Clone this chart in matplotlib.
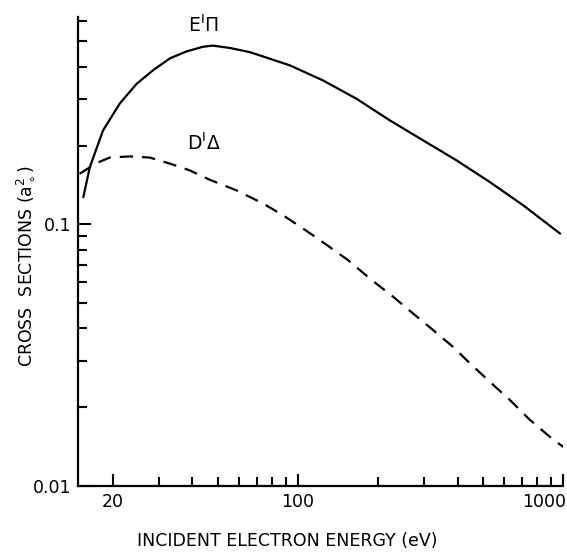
import matplotlib
matplotlib.use("Agg")
import matplotlib.pyplot as plt
from matplotlib.ticker import NullFormatter, LogLocator
import matplotlib.transforms as mtransforms

# E1Pi (solid)
e_energy = [15.5, 16.4, 18.4, 21.3, 24.6, 28.4, 32.9, 38.0, 43.8, 47.8, 55.4, 65.9,
            93.3, 124.6, 166.5, 222.4, 297, 397, 530, 708, 975]
e_sigma = [0.127, 0.1655, 0.2286, 0.290, 0.344, 0.388, 0.431, 0.458, 0.477, 0.482,
           0.472, 0.455, 0.405, 0.3544, 0.3018, 0.2495, 0.2092, 0.1755, 0.1450,
           0.1182, 0.0922]

# D1Delta (dashed)
d_energy = [15.0, 17.4, 19.5, 23.2, 27.6, 32.9, 39.1, 46.5, 58.7, 74.0, 88.0, 104.7,
            126.4, 154.8, 187, 229, 272, 324, 385, 446, 530, 631, 750, 893, 1002]
d_sigma = [0.156, 0.1715, 0.180, 0.1818, 0.180, 0.1706, 0.1607, 0.148, 0.1348, 0.120,
           0.1082, 0.0963, 0.0844, 0.0729, 0.0620, 0.0528, 0.0456, 0.0394, 0.0340,
           0.0294, 0.0250, 0.0213, 0.0179, 0.0154, 0.0141]

x_major = [20, 100, 1000]
x_major_labels = ["20", "100", "1000"]
y_major = [0.01, 0.1]
y_major_labels = ["0.01", "0.1"]

plt.rcParams['font.family'] = ['DejaVu Sans']

fig = plt.figure(figsize=(5.67, 5.54), dpi=100)
ax = fig.add_axes([78/567, 1-486/554, (563-78)/567, (486-17)/554])

ax.plot(e_energy, e_sigma, color='black', lw=1.6, solid_capstyle='round',
        solid_joinstyle='round')
ax.plot(d_energy, d_sigma, color='black', lw=1.6, dashes=(6, 4))

ax.set_xscale('log')
ax.set_yscale('log')
ax.set_xlim(14.8, 1000)
ax.set_ylim(0.01, 0.62)

for s in ['top', 'right']:
    ax.spines[s].set_visible(False)
for s in ['left', 'bottom']:
    ax.spines[s].set_linewidth(1.6)

ax.set_xticks(x_major, labels=x_major_labels)
ax.xaxis.set_minor_locator(LogLocator(base=10, subs=range(2, 10), numticks=20))
ax.xaxis.set_minor_formatter(NullFormatter())
ax.set_yticks(y_major, labels=y_major_labels)
ax.yaxis.set_minor_locator(LogLocator(base=10, subs=range(2, 10), numticks=20))
ax.yaxis.set_minor_formatter(NullFormatter())
ax.set_xlim(14.8, 1000)
ax.set_ylim(0.01, 0.62)

ax.tick_params(which='major', direction='in', length=9, width=1.5, labelsize=12.5, pad=5)
ax.tick_params(which='minor', direction='in', length=6.5, width=1.5)

lbl = ax.get_xticklabels()[-1]
lbl.set_ha('right')
lbl.set_transform(lbl.get_transform() + mtransforms.ScaledTranslation(2/72, 0, fig.dpi_scale_trans))

fig.text(25/567, 1-266/554, r'CROSS  SECTIONS (a$_\circ^2$)', rotation=90,
         ha='center', va='center', fontsize=12.5)
fig.text(287/567, 1-541/554, 'INCIDENT ELECTRON ENERGY (eV)', ha='center', va='center',
         fontsize=12.5)

ax.text(44, 0.575, 'E$^{\\mathregular{I}}\\Pi$', ha='center', va='center', fontsize=13.5)
ax.text(44, 0.205, 'D$^{\\mathregular{I}}\\Delta$', ha='center', va='center', fontsize=13.5)

fig.savefig('out.png', dpi=100)
